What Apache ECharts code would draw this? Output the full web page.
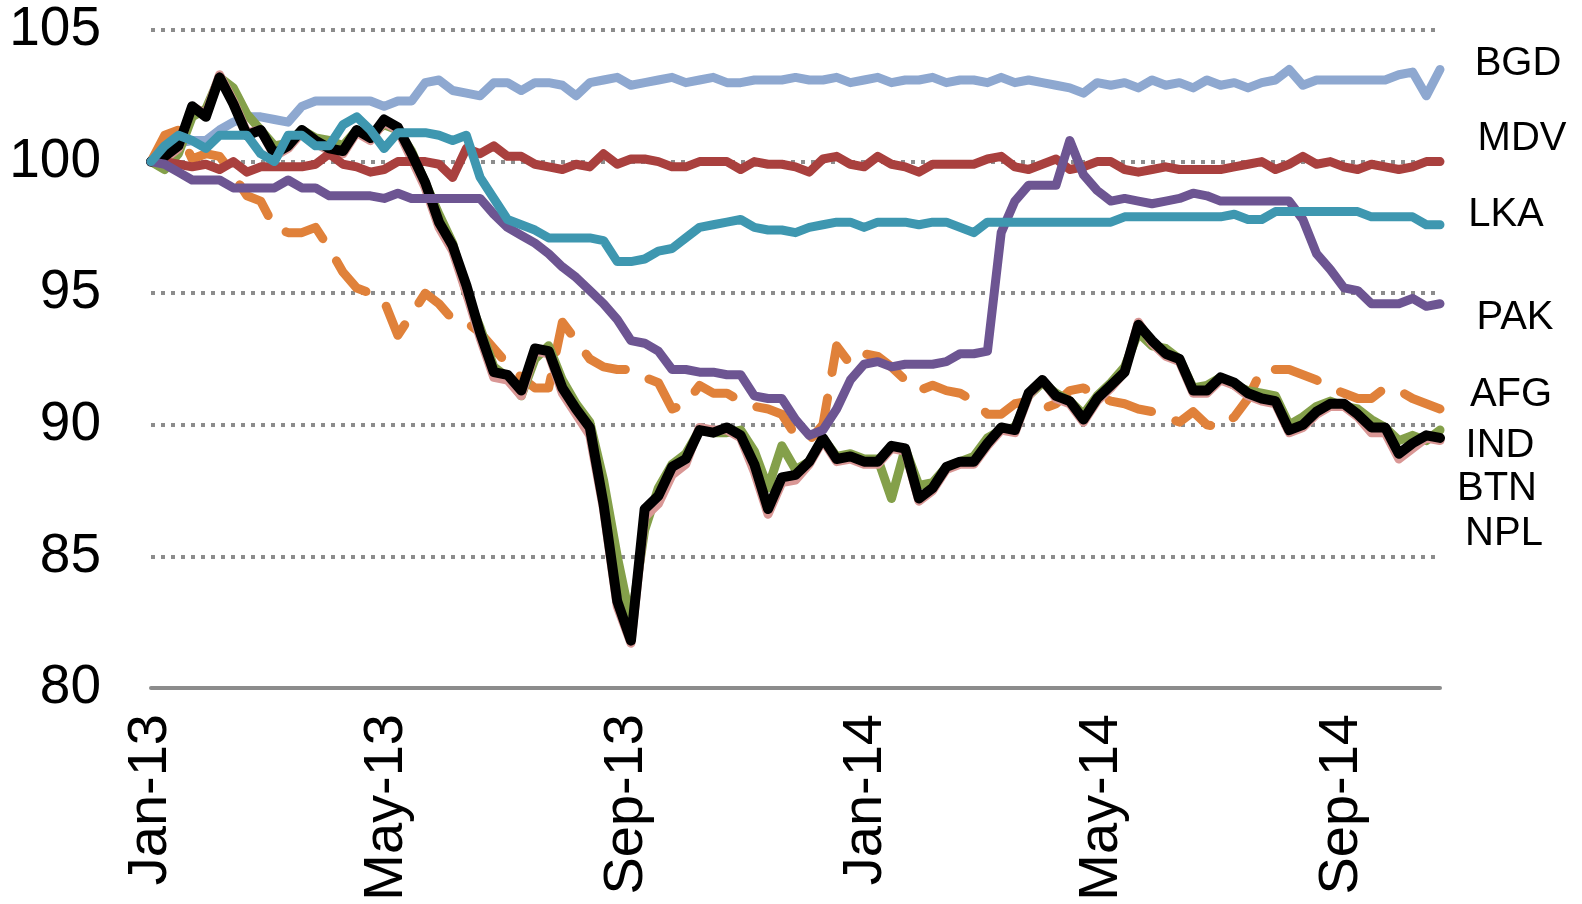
<!DOCTYPE html>
<html>
<head>
<meta charset="utf-8">
<script src="https://cdn.jsdelivr.net/npm/echarts@6/dist/echarts.min.js"></script>
<style>
  html, body { margin: 0; padding: 0; background: #fff; }
  #main { width: 1582px; height: 904px; }
</style>
</head>
<body>
<div id="main"></div>
<script>
// weekly observations, index 100 = start of Jan 2013
var tickDays = [0, 120, 243, 365, 485, 608];
var tickLabels = ['Jan-13', 'May-13', 'Sep-13', 'Jan-14', 'May-14', 'Sep-14'];

var afg = [
  100.0, 101.0, 101.2, 100.1, 100.3, 100.2, 99.5, 98.7, 98.5, 97.5,
  97.3, 97.3, 97.5, 96.7, 95.8, 95.2, 95.0, 94.7, 93.4, 94.2,
  95.0, 94.6, 94.0, 93.9, 93.5, 92.9, 92.3, 91.8, 91.4, 91.4,
  93.9, 93.2, 92.5, 92.2, 92.1, 92.1, 91.8, 91.6, 90.6, 90.8,
  91.5, 91.2, 91.2, 90.9, 90.7, 90.6, 90.4, 89.6, 89.4, 90.0,
  93.0, 92.3, 92.7, 92.6, 92.2, 91.7, 91.3, 91.5, 91.3, 91.2,
  90.9, 90.4, 90.4, 90.8, 90.9, 90.6, 90.8, 91.3, 91.4, 91.1,
  90.9, 90.8, 90.6, 90.5, 90.3, 90.1, 90.5, 90.0, 89.9, 90.3,
  91.0, 92.1, 92.1, 92.1, 91.9, 91.7, 91.4, 91.2, 91.0, 91.0,
  91.4, 91.3, 91.0, 90.8, 90.6
];
var bgd = [
  100.0, 100.5, 100.7, 100.8, 100.8, 101.2, 101.5, 101.7, 101.7, 101.6,
  101.5, 102.1, 102.3, 102.3, 102.3, 102.3, 102.3, 102.1, 102.3, 102.3,
  103.0, 103.1, 102.7, 102.6, 102.5, 103.0, 103.0, 102.7, 103.0, 103.0,
  102.9, 102.5, 103.0, 103.1, 103.2, 102.9, 103.0, 103.1, 103.2, 103.0,
  103.1, 103.2, 103.0, 103.0, 103.1, 103.1, 103.1, 103.2, 103.1, 103.1,
  103.2, 103.0, 103.1, 103.2, 103.0, 103.1, 103.1, 103.2, 103.0, 103.1,
  103.1, 103.0, 103.2, 103.0, 103.1, 103.0, 102.9, 102.8, 102.6, 103.0,
  102.9, 103.0, 102.8, 103.1, 102.9, 103.0, 102.8, 103.1, 102.9, 103.0,
  102.8, 103.0, 103.1, 103.5, 102.9, 103.1, 103.1, 103.1, 103.1, 103.1,
  103.1, 103.3, 103.4, 102.5, 103.5
];
var btn = [
  100.0, 99.7, 100.3, 101.7, 102.0, 103.2, 102.8, 101.8, 101.2, 100.6,
  100.7, 101.2, 100.9, 100.8, 100.6, 101.2, 101.0, 101.4, 101.2, 100.4,
  99.2, 98.0, 96.9, 95.0, 93.7, 92.2, 91.8, 91.1, 92.5, 93.0,
  91.7, 90.8, 90.1, 87.9, 85.0, 82.5, 86.0, 87.6, 88.5, 88.9,
  89.8, 89.7, 89.7, 89.8, 89.0, 87.6, 89.2, 88.3, 88.6, 89.5,
  88.8, 88.9, 88.7, 88.7, 87.2, 89.1, 87.7, 87.8, 88.4, 88.6,
  88.8, 89.5, 89.8, 89.9, 91.1, 91.6, 91.2, 90.9, 90.4, 91.1,
  91.6, 92.2, 93.5, 93.0, 92.9, 92.5, 91.4, 91.5, 91.8, 91.5,
  91.3, 91.2, 91.1, 90.0, 90.3, 90.7, 90.9, 90.7, 90.6, 90.2,
  89.9, 89.4, 89.6, 89.4, 89.8
];
var ind = [
  100.0, 100.1, 100.5, 102.1, 101.8, 103.3, 102.3, 101.1, 101.2, 100.2,
  100.5, 101.1, 100.7, 100.4, 100.3, 101.1, 100.8, 101.5, 101.2, 100.1,
  99.0, 97.5, 96.6, 95.0, 93.3, 91.8, 91.7, 91.1, 92.8, 92.7,
  91.2, 90.4, 89.6, 86.8, 83.1, 81.7, 86.5, 87.0, 88.1, 88.5,
  89.9, 89.8, 89.8, 89.5, 88.2, 86.6, 87.8, 87.9, 88.5, 89.4,
  88.6, 88.7, 88.5, 88.5, 89.1, 89.0, 87.1, 87.5, 88.3, 88.5,
  88.5, 89.2, 89.8, 89.7, 91.1, 91.7, 91.0, 90.8, 90.1, 90.9,
  91.4, 92.0, 93.9, 93.1, 92.6, 92.4, 91.2, 91.2, 91.7, 91.5,
  91.1, 90.9, 90.8, 89.7, 89.9, 90.4, 90.7, 90.7, 90.3, 89.7,
  89.7, 88.7, 89.1, 89.5, 89.4
];
var mdv = [
  100.0, 100.0, 99.9, 99.8, 99.9, 99.7, 100.0, 99.6, 99.8, 99.8,
  99.8, 99.8, 99.9, 100.3, 99.9, 99.8, 99.6, 99.7, 100.0, 100.0,
  100.0, 99.9, 99.4, 100.5, 100.3, 100.6, 100.2, 100.2, 99.9, 99.8,
  99.7, 99.9, 99.8, 100.3, 99.9, 100.1, 100.1, 100.0, 99.8, 99.8,
  100.0, 100.0, 100.0, 99.7, 100.0, 99.9, 99.9, 99.8, 99.6, 100.1,
  100.2, 99.9, 99.8, 100.2, 99.9, 99.8, 99.6, 99.9, 99.9, 99.9,
  99.9, 100.1, 100.2, 99.8, 99.7, 99.9, 100.1, 99.7, 99.8, 100.0,
  100.0, 99.7, 99.6, 99.7, 99.8, 99.7, 99.7, 99.7, 99.7, 99.8,
  99.9, 100.0, 99.7, 99.9, 100.2, 99.9, 100.0, 99.8, 99.7, 99.9,
  99.8, 99.7, 99.8, 100.0, 100.0
];
var npl = [
  100.0, 100.2, 100.6, 102.1, 101.7, 103.2, 102.2, 101.0, 101.2, 100.3,
  100.6, 101.2, 100.8, 100.5, 100.4, 101.2, 100.9, 101.6, 101.3, 100.3,
  99.2, 97.7, 96.8, 95.3, 93.5, 92.0, 91.9, 91.3, 92.9, 92.8,
  91.4, 90.6, 89.9, 87.0, 83.3, 81.8, 86.8, 87.3, 88.4, 88.7,
  89.8, 89.7, 89.9, 89.6, 88.5, 86.8, 88.0, 88.1, 88.6, 89.5,
  88.7, 88.8, 88.6, 88.6, 89.2, 89.1, 87.2, 87.6, 88.4, 88.6,
  88.6, 89.3, 89.9, 89.8, 91.2, 91.7, 91.1, 90.9, 90.2, 91.0,
  91.5, 92.0, 93.8, 93.2, 92.7, 92.5, 91.3, 91.3, 91.8, 91.6,
  91.2, 91.0, 90.9, 89.8, 90.0, 90.5, 90.8, 90.8, 90.4, 89.9,
  89.9, 88.9, 89.3, 89.6, 89.5
];
var pak = [
  100.0, 99.9, 99.6, 99.3, 99.3, 99.3, 99.0, 99.0, 99.0, 99.0,
  99.3, 99.0, 99.0, 98.7, 98.7, 98.7, 98.7, 98.6, 98.8, 98.6,
  98.6, 98.6, 98.6, 98.6, 98.6, 98.0, 97.5, 97.2, 96.9, 96.5,
  96.0, 95.6, 95.1, 94.6, 94.0, 93.2, 93.1, 92.8, 92.1, 92.1,
  92.0, 92.0, 91.9, 91.9, 91.1, 91.0, 91.0, 90.2, 89.6, 89.8,
  90.6, 91.7, 92.3, 92.4, 92.2, 92.3, 92.3, 92.3, 92.4, 92.7,
  92.7, 92.8, 97.3, 98.5, 99.1, 99.1, 99.1, 100.8, 99.5, 98.9,
  98.5, 98.6, 98.5, 98.4, 98.5, 98.6, 98.8, 98.7, 98.5, 98.5,
  98.5, 98.5, 98.5, 98.5, 97.8, 96.5, 95.9, 95.2, 95.1, 94.6,
  94.6, 94.6, 94.8, 94.5, 94.6
];
var lka = [
  100.0, 100.6, 101.0, 100.8, 100.5, 101.0, 101.0, 101.0, 100.3, 100.0,
  101.0, 101.0, 100.6, 100.6, 101.4, 101.7, 101.2, 100.5, 101.1, 101.1,
  101.1, 101.0, 100.8, 101.0, 99.4, 98.6, 97.8, 97.6, 97.4, 97.1,
  97.1, 97.1, 97.1, 97.0, 96.2, 96.2, 96.3, 96.6, 96.7, 97.1,
  97.5, 97.6, 97.7, 97.8, 97.5, 97.4, 97.4, 97.3, 97.5, 97.6,
  97.7, 97.7, 97.5, 97.7, 97.7, 97.7, 97.6, 97.7, 97.7, 97.5,
  97.3, 97.7, 97.7, 97.7, 97.7, 97.7, 97.7, 97.7, 97.7, 97.7,
  97.7, 97.9, 97.9, 97.9, 97.9, 97.9, 97.9, 97.9, 97.9, 98.0,
  97.8, 97.8, 98.1, 98.1, 98.1, 98.1, 98.1, 98.1, 98.1, 97.9,
  97.9, 97.9, 97.9, 97.6, 97.6
];

var font = '"Liberation Sans", Arial, sans-serif';

// days since 1 Jan 2013 for each weekly point
function withDays(values) {
  return values.map(function (v, i) { return [i * 7, v]; });
}

// drawn in this order (alphabetical by country)
var lines = [
  { name: 'AFG', data: afg, color: '#E0813A', width: 9, dashed: true },
  { name: 'BGD', data: bgd, color: '#8EA8D0', width: 9 },
  { name: 'BTN', data: btn, color: '#84A04A', width: 9 },
  { name: 'IND', data: ind, color: '#D99795', width: 9 },
  { name: 'MDV', data: mdv, color: '#A9403E', width: 9 },
  { name: 'NPL', data: npl, color: '#000000', width: 10 },
  { name: 'PAK', data: pak, color: '#6D5592', width: 9 },
  { name: 'LKA', data: lka, color: '#3E97B0', width: 9 }
];

var endLabels = [
  { text: 'BGD', x: 1518, y: 64 },
  { text: 'MDV', x: 1522, y: 139 },
  { text: 'LKA', x: 1506, y: 215 },
  { text: 'PAK', x: 1515, y: 318 },
  { text: 'AFG', x: 1511, y: 395 },
  { text: 'IND', x: 1500, y: 446 },
  { text: 'BTN', x: 1497, y: 489 },
  { text: 'NPL', x: 1504, y: 534 }
];

var myChart = echarts.init(document.getElementById('main'));
myChart.setOption({
  animation: false,
  backgroundColor: '#ffffff',
  grid: { left: 151, right: 142, top: 30, bottom: 216, outerBoundsMode: 'none' },
  xAxis: {
    type: 'value',
    min: 0,
    max: 658,
    axisLine: { show: true, lineStyle: { color: '#8C8C8C', width: 4 } },
    axisTick: { show: false },
    splitLine: { show: false },
    axisLabel: {
      customValues: tickDays,
      rotate: 90,
      margin: 26,
      fontSize: 56,
      fontFamily: font,
      color: '#000',
      formatter: function (v) {
        var k = tickDays.indexOf(v);
        return k >= 0 ? tickLabels[k] : '';
      }
    }
  },
  yAxis: {
    type: 'value',
    min: 80,
    max: 105,
    interval: 5,
    axisLine: { show: false },
    axisTick: { show: false },
    axisLabel: { margin: 50, fontSize: 55, fontFamily: font, color: '#000' },
    splitLine: { lineStyle: { color: '#8C8C8C', width: 4, type: [4, 6] } }
  },
  graphic: endLabels.map(function (l) {
    return {
      type: 'text', x: l.x, y: l.y,
      style: { text: l.text, fill: '#000', font: '40px ' + font, align: 'center', verticalAlign: 'middle' }
    };
  }),
  series: lines.map(function (s) {
    return {
      name: s.name,
      type: 'line',
      data: withDays(s.data),
      showSymbol: false,
      symbol: 'none',
      lineStyle: {
        color: s.color,
        width: s.width,
        cap: 'round',
        join: 'round',
        type: s.dashed ? [44, 26] : 'solid'
      }
    };
  })
});
</script>
</body>
</html>
